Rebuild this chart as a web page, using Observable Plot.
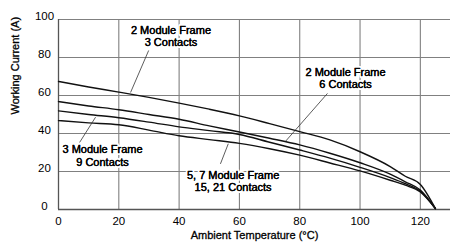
<!DOCTYPE html>
<html>
<head>
<meta charset="utf-8">
<script src="https://cdn.jsdelivr.net/npm/d3@7"></script>
<script src="https://cdn.jsdelivr.net/npm/@observablehq/plot@0.6"></script>
<style>
  html, body { margin: 0; padding: 0; background: #fff; }
</style>
</head>
<body>
<div id="chart"></div>
<script>
// Ambient temperature (°C) sample points
const temps = [0, 10, 20, 30, 40, 50, 60, 70, 80, 90, 100, 110, 115, 120, 125];
// Working current (A) per configuration
const mod2c3  = [67.4, 64.5, 61.8, 59.0, 56.0, 52.8, 49.3, 45.2, 41.0, 36.6, 30.4, 22.6, 17.5, 13.2, 0.5];
const mod2c6  = [56.8, 54.5, 52.5, 50.0, 47.5, 44.0, 40.8, 37.5, 34.0, 29.6, 24.6, 18.6, 14.6, 10.2, 0.5];
const mod3c9  = [51.9, 50.0, 48.3, 46.0, 43.5, 41.5, 39.5, 35.4, 31.3, 27.0, 22.2, 16.8, 13.6, 9.6, 0.5];
const mod57c  = [46.8, 45.6, 44.6, 41.8, 38.8, 36.8, 34.8, 32.0, 28.6, 24.5, 20.3, 15.4, 12.8, 9.2, 0.5];
const seriesNames = ["2 Module Frame 3 Contacts", "2 Module Frame 6 Contacts", "3 Module Frame 9 Contacts", "5, 7 Module Frame 15, 21 Contacts"];
const seriesValues = [mod2c3, mod2c6, mod3c9, mod57c];

const xTicks = [0, 20, 40, 60, 80, 100, 120];
const yTicks = [0, 20, 40, 60, 80, 100];
const xTitle = "Ambient Temperature (°C)";
const yTitle = "Working Current (A)";

// Callout labels and their leader lines (in data units)
const labelTexts = ["2 Module Frame\n3 Contacts", "2 Module Frame\n6 Contacts", "3 Module Frame\n9 Contacts", "5, 7 Module Frame\n15, 21 Contacts"];
const labelX = [37.3, 95.2, 14.6, 57.9];
const labelY = [91.3, 69.2, 28.5, 15.0];
const leaderX1 = [29.9, 89.2, 7.0, 53.7];
const leaderY1 = [83.7, 61.1, 35.3, 24.0];
const leaderX2 = [23.9, 75.3, 12.3, 56.3];
const leaderY2 = [61.6, 35.9, 48.6, 34.6];

const rows = [];
seriesNames.forEach((name, i) => {
  temps.forEach((t, j) => rows.push({ series: name, t, a: seriesValues[i][j] }));
});
const labels = labelTexts.map((text, i) => ({ text, x: labelX[i], y: labelY[i] }));
const leaders = labelTexts.map((_, i) => ({ x1: leaderX1[i], y1: leaderY1[i], x2: leaderX2[i], y2: leaderY2[i] }));

const ink = { fill: "#000", stroke: "#000", strokeWidth: 0.3 };

const chart = Plot.plot({
  width: 451,
  height: 251,
  marginLeft: 58,
  marginRight: 1,
  marginTop: 19,
  marginBottom: 42,
  style: { fontFamily: "'Liberation Sans', Arial, sans-serif", fontSize: "11px", color: "#000", background: "#fff" },
  x: { domain: [0, 130] },
  y: { domain: [0, 100] },
  marks: [
    Plot.gridX(xTicks.filter(d => d > 0), { stroke: "#808080", strokeOpacity: 1, strokeWidth: 1.1 }),
    Plot.gridY(yTicks.filter(d => d > 0), { stroke: "#808080", strokeOpacity: 1, strokeWidth: 1.1 }),
    Plot.ruleX([0], { stroke: "#555", strokeWidth: 1.3 }),
    Plot.ruleY([0], { stroke: "#555", strokeWidth: 1.3 }),
    Plot.axisX(xTicks, { tickSize: 0, tickPadding: 7, label: null, fontSize: 11.5, ...ink }),
    Plot.axisY(yTicks, { tickSize: 0, tickPadding: 14, textAnchor: "middle", dy: -3, label: null, fontSize: 11.5, ...ink }),
    Plot.line(rows, { x: "t", y: "a", z: "series", stroke: "#111", strokeWidth: 1.4, curve: "monotone-x" }),
    Plot.link(leaders, { x1: "x1", y1: "y1", x2: "x2", y2: "y2", stroke: "#333", strokeWidth: 0.8 }),
    Plot.text(labels, { x: "x", y: "y", text: "text", lineHeight: 1.13, fontSize: 11, fill: "#000", stroke: "white", strokeWidth: 4, paintOrder: "stroke" }),
    Plot.text(labels, { x: "x", y: "y", text: "text", lineHeight: 1.13, fontSize: 11, ...ink }),
    Plot.text([xTitle], { frameAnchor: "bottom", dy: 29, fontSize: 11, ...ink }),
    Plot.text([yTitle], { frameAnchor: "left", dx: -43, rotate: -90, fontSize: 11, ...ink })
  ]
});
document.getElementById("chart").appendChild(chart);
</script>
</body>
</html>
